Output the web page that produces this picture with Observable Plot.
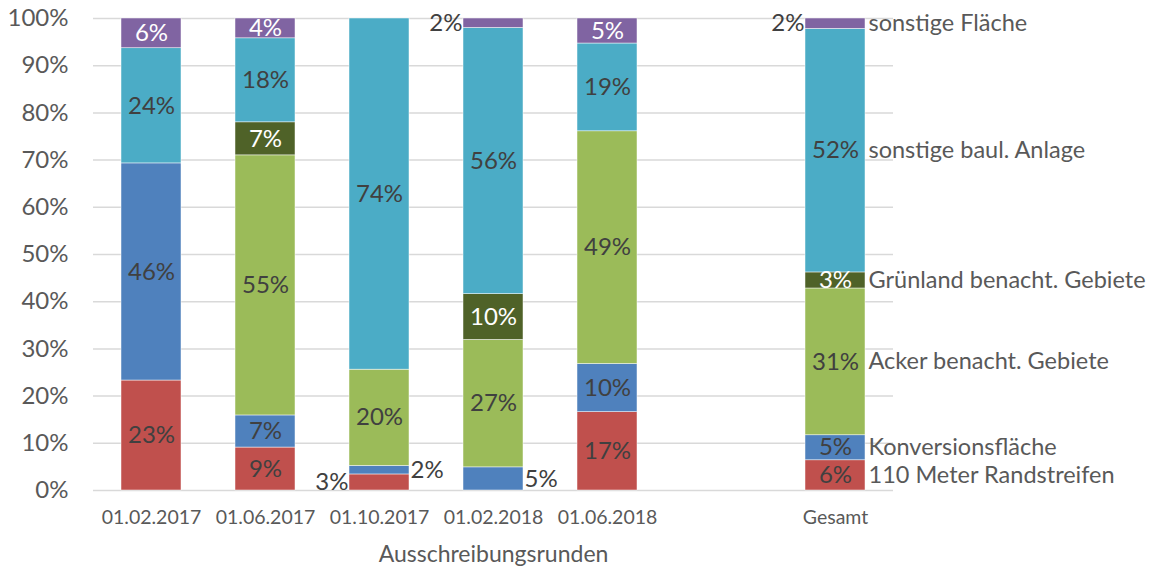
<!DOCTYPE html>
<html>
<head>
<meta charset="utf-8">
<script src="https://cdn.jsdelivr.net/npm/d3@7"></script>
<script src="https://cdn.jsdelivr.net/npm/@observablehq/plot@0.6"></script>
<style>
  html, body { margin: 0; padding: 0; background: #fff; }
  #chart svg { font-family: Lato, "Noto Sans", sans-serif; }
</style>
</head>
<body>
<div id="chart"></div>
<script>
// Categories (a blank slot separates the rounds from the total)
const categories = ["01.02.2017", "01.06.2017", "01.10.2017", "01.02.2018", "01.06.2018", " ", "Gesamt"];
const seriesNames = ["110 Meter Randstreifen", "Konversionsfläche", "Acker benacht. Gebiete",
                     "Grünland benacht. Gebiete", "sonstige baul. Anlage", "sonstige Fläche"];
const seriesColors = ["#C0504D", "#4F81BD", "#9BBB59", "#4F6228", "#4BACC6", "#8064A2"];

// Values in percent, per category (null = no bar)
const randstreifen = [23.3, 9.1, 3.4, 0, 16.6, null, 6.4];
const konversion   = [46.0, 6.8, 1.8, 4.9, 10.2, null, 5.3];
const acker        = [0, 55.1, 20.4, 27.0, 49.3, null, 31.1];
const gruenland    = [0, 7.0, 0, 9.7, 0, null, 3.4];
const baulAnlage   = [24.4, 17.8, 74.4, 56.4, 18.6, null, 51.6];
const sonstige     = [6.3, 4.2, 0, 2.0, 5.3, null, 2.2];

const yTicks = [0, 10, 20, 30, 40, 50, 60, 70, 80, 90, 100];

// Labels drawn beside the bar instead of inside: [category, series, side]
const outsideLabels = [
  ["01.10.2017", "110 Meter Randstreifen", "left"],
  ["01.10.2017", "Konversionsfläche", "right"],
  ["01.02.2018", "Konversionsfläche", "right"],
  ["01.02.2018", "sonstige Fläche", "left"],
  ["Gesamt", "sonstige Fläche", "left"]
];
const whiteLabelSeries = ["Grünland benacht. Gebiete", "sonstige Fläche"];

const valueArrays = [randstreifen, konversion, acker, gruenland, baulAnlage, sonstige];
const rows = [];
seriesNames.forEach((s, i) => {
  categories.forEach((c, j) => {
    const v = valueArrays[i][j];
    if (v != null) rows.push({cat: c, series: s, value: v});
  });
});

const sideOf = d => {
  const o = outsideLabels.find(e => e[0] === d.cat && e[1] === d.series);
  return o ? o[2] : "inside";
};
const pct = d => Math.round(d.value) + "%";

const chart = Plot.plot({
  width: 1157,
  height: 569,
  marginTop: 18,
  marginBottom: 79,
  marginLeft: 93,
  marginRight: 264,
  style: {fontFamily: "Lato, 'Noto Sans', sans-serif", background: "#fff"},
  x: {domain: categories, paddingInner: 0.47, paddingOuter: 0.235, label: null},
  y: {domain: [0, 100], label: null},
  color: {domain: seriesNames, range: seriesColors},
  marks: [
    Plot.gridY(yTicks, {stroke: "#d9d9d9", strokeOpacity: 1, strokeWidth: 1.5}),
    Plot.axisY(yTicks, {tickSize: 0, tickPadding: 25, fontSize: 24, fill: "#595959",
                        tickFormat: d => d + "%", label: null}),
    Plot.axisX({tickSize: 0, tickPadding: 20, fontSize: 19.5, fill: "#595959",
                tickFormat: d => d.trim(), label: null}),
    Plot.text(["Ausschreibungsrunden"], {frameAnchor: "bottom", dy: 71, fontSize: 23,
                fill: "#595959", text: d => d}),
    Plot.barY(rows, Plot.stackY({x: "cat", y: "value", fill: "series",
                stroke: "#ffffff", strokeWidth: 0.6, strokeOpacity: 0.8})),
    // inside labels, dark
    Plot.text(rows, Plot.stackY({x: "cat", y: "value", z: "series",
      text: d => (d.value > 0 && sideOf(d) === "inside" && !whiteLabelSeries.includes(d.series)) ? pct(d) : "",
      fontSize: 24, fill: "#404040"})),
    // inside labels, white
    Plot.text(rows, Plot.stackY({x: "cat", y: "value", z: "series",
      text: d => (d.value > 0 && sideOf(d) === "inside" && whiteLabelSeries.includes(d.series)) ? pct(d) : "",
      fontSize: 24, fill: "#ffffff"})),
    // outside labels, left
    Plot.text(rows, Plot.stackY({x: "cat", y: "value", z: "series",
      text: d => (sideOf(d) === "left") ? pct(d) : "",
      fontSize: 24, fill: "#404040", textAnchor: "end", dx: -31})),
    // outside labels, right
    Plot.text(rows, Plot.stackY({x: "cat", y: "value", z: "series",
      text: d => (sideOf(d) === "right") ? pct(d) : "",
      fontSize: 24, fill: "#404040", textAnchor: "start", dx: 31})),
    // series names next to the total bar
    Plot.text(rows, Plot.stackY({x: "cat", y: "value", z: "series",
      text: d => d.cat === "Gesamt" ? d.series : "",
      fontSize: 23.5, fill: "#595959", textAnchor: "start", dx: 33}))
  ]
});
document.getElementById("chart").appendChild(chart);
</script>
</body>
</html>
